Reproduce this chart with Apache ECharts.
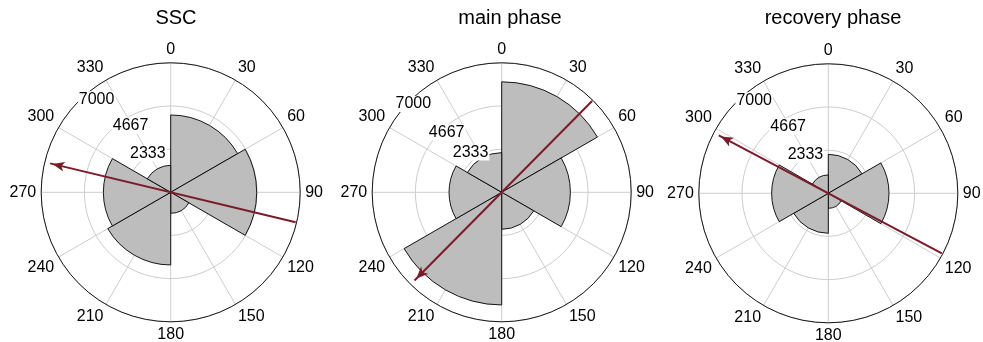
<!DOCTYPE html>
<html>
<head>
<meta charset="utf-8">
<script src="https://cdn.jsdelivr.net/npm/echarts@6/dist/echarts.min.js"></script>
<style>
  html, body { margin: 0; padding: 0; background: #ffffff; }
  #chart { width: 983px; height: 342px; }
</style>
</head>
<body>
<div id="chart"></div>
<script>
// Direction histograms (60-degree bins, clockwise from north) for three storm phases
const panelTitles = ['SSC', 'main phase', 'recovery phase'];
const binLabels = ['0-60', '60-120', '120-180', '180-240', '240-300', '300-360'];
const sscCounts = [4180, 4649, 1135, 3928, 3640, 1459];
const mainCounts = [5973, 3713, 2000, 6090, 2847, 2144];
const recoveryCounts = [2108, 3281, 811, 2162, 3064, 991];
// mean direction of each phase, degrees clockwise from north
const meanDirections = [283.5, 224.7, 297.9];
const rMax = 7000;
const rTickValues = [rMax / 3, rMax * 2 / 3, rMax];
const rTickLabels = ['2333', '4667', '7000'];
const angleTicks = [0, 30, 60, 90, 120, 150, 180, 210, 240, 270, 300, 330];

const counts = [sscCounts, mainCounts, recoveryCounts];

// layout of the three polar plots
const R = 129.5;
const centers = [[170.7, 192.3], [501.7, 192.3], [828.3, 193.3]];
const titleX = [171, 505, 828];
// where each radial tick label sits: [distance px, angle deg]
const rLabelSpots = [
  [[45, 329.5], [78, 329], [119, 321.5]],
  [[50.5, 322], [81.5, 317.5], [125, 315]],
  [[45, 329.5], [78, 329], [119, 321.5]]
];

const FONT = 'Liberation Sans, Arial, Helvetica, sans-serif';
const TEXT = '#000000';
const GRID = '#cdcdcd';
const ARROW = '#7d1a2a';
const pxToR = px => px / R * rMax;

const polar = [], angleAxis = [], radiusAxis = [], series = [], title = [];

centers.forEach((c, i) => {
  const gridIdx = 2 * i, barIdx = 2 * i + 1;
  polar.push({ center: c, radius: [0, R] });
  polar.push({ center: c, radius: [0, R] });

  angleAxis.push({
    polarIndex: gridIdx, type: 'value', min: 0, max: 360, interval: 30,
    startAngle: 90, clockwise: true,
    axisLine: { lineStyle: { color: '#1a1a1a', width: 1 } },
    axisTick: { show: false },
    axisLabel: {
      margin: 5, fontSize: 16, color: TEXT, fontFamily: FONT,
      formatter: v => (angleTicks.indexOf(v) >= 0 ? String(v) : '')
    },
    splitLine: { lineStyle: { color: GRID, width: 1 } }
  });
  radiusAxis.push({
    polarIndex: gridIdx, type: 'value', min: 0, max: rMax, interval: rMax / 3,
    axisLine: { show: false }, axisTick: { show: false }, axisLabel: { show: false },
    splitLine: { lineStyle: { color: GRID, width: 1 } }
  });

  angleAxis.push({
    polarIndex: barIdx, type: 'category', data: binLabels,
    startAngle: 90, clockwise: true, show: false
  });
  radiusAxis.push({ polarIndex: barIdx, type: 'value', min: 0, max: rMax, show: false });

  series.push({
    type: 'bar', coordinateSystem: 'polar', polarIndex: barIdx,
    data: counts[i], barCategoryGap: '0%', silent: true,
    itemStyle: { color: '#bdbdbd', borderColor: '#000000', borderWidth: 0.9 }
  });

  // mean direction: full diameter with an arrowhead at the pointing end
  const dir = meanDirections[i];
  const headLen = 12;
  series.push({
    type: 'line', coordinateSystem: 'polar', polarIndex: gridIdx,
    data: [[pxToR(128.5), dir - 180], [pxToR(124), dir]],
    symbol: 'none', silent: true, z: 5,
    lineStyle: { color: ARROW, width: 2 }
  });
  series.push({
    type: 'scatter', coordinateSystem: 'polar', polarIndex: gridIdx,
    data: [[pxToR(127.5 - headLen / 2), dir]],
    symbol: 'arrow', symbolSize: [7.5, headLen], symbolRotate: -dir,
    silent: true, z: 6,
    itemStyle: { color: ARROW, opacity: 1 }
  });

  // radial tick labels
  series.push({
    type: 'scatter', coordinateSystem: 'polar', polarIndex: gridIdx,
    symbolSize: 0, silent: true, z: 4,
    itemStyle: { opacity: 1 },
    data: rTickValues.map((v, k) => ({
      value: [pxToR(rLabelSpots[i][k][0]), rLabelSpots[i][k][1]],
      label: { formatter: rTickLabels[k] }
    })),
    label: {
      show: true, position: 'inside', fontSize: 16, color: TEXT, fontFamily: FONT,
      backgroundColor: '#ffffff', padding: [0, 1]
    }
  });

  title.push({
    text: panelTitles[i], left: titleX[i], top: 3, textAlign: 'center',
    textStyle: { fontSize: 20, fontWeight: 'normal', color: '#000000', fontFamily: FONT }
  });
});

const chart = echarts.init(document.getElementById('chart'), null, { renderer: 'canvas' });
chart.setOption({
  animation: false,
  backgroundColor: '#ffffff',
  title, polar, angleAxis, radiusAxis, series
});
</script>
</body>
</html>
